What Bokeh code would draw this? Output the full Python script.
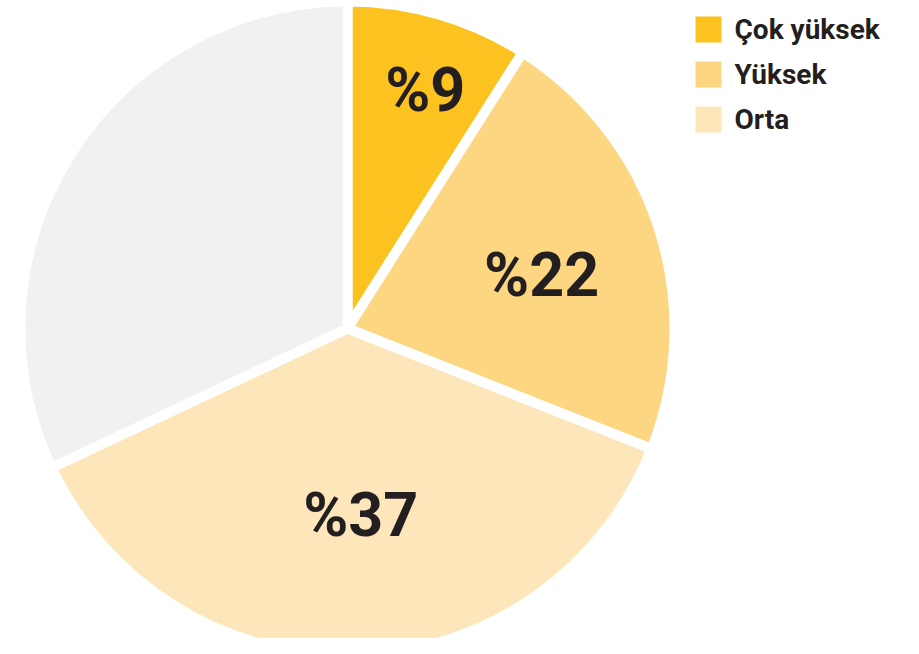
import math
from bokeh.plotting import figure
from bokeh.models import Range1d, ColumnDataSource
from bokeh.core.properties import value
from bokeh.embed import file_html
from bokeh.resources import INLINE

# data
categories = ["Çok yüksek", "Yüksek", "Orta", "Diğer"]
shares = [9, 22, 37, 32]
colors = ["#FCC21F", "#FCD680", "#FDE7BA", "#F0F1F3"]
show_label = [True, True, True, False]
label_radius = [0.78, 0.625, 0.58, 0.0]
label_pos = [0.556, 0.534, 0.483, 0.5]
legend_categories = categories[:3]
legend_colors = colors[:3]

W, H = 903, 638
p = figure(width=W, height=H, output_backend="svg", toolbar_location=None,
           x_range=Range1d(0, W), y_range=Range1d(-H, 0),
           min_border=0, outline_line_color=None)
p.axis.visible = False
p.grid.visible = False
p.background_fill_color = "white"

cx, cy, r = 347, -328, 327
rv = r - 5
total = sum(shares)
starts, ends, lx, ly, labels = [], [], [], [], []
cum = 0
for s, show, lr, lp in zip(shares, show_label, label_radius, label_pos):
    a0 = math.pi / 2 - 2 * math.pi * cum / total
    cum += s
    a1 = math.pi / 2 - 2 * math.pi * cum / total
    starts.append(a0)
    ends.append(a1)
    if show:
        ang = a0 + (a1 - a0) * lp
        lx.append(cx + lr * rv * math.cos(ang))
        ly.append(cy + lr * rv * math.sin(ang))
        labels.append(f"%{s}")

src = ColumnDataSource(dict(start=starts, end=ends, color=colors))
p.wedge(x=cx, y=cy, radius=r, start_angle="start", end_angle="end",
        direction="clock", fill_color="color", line_color="white",
        line_width=10, source=src)

p.text(x=lx, y=ly, text=labels, text_align="center", text_baseline="middle",
       text_font=value("Roboto"), text_font_style="bold",
       text_font_size="61px", text_color="#231F20")

# legend
lgx, lgy, step = 708, -29, 45
sq_x = [lgx] * len(legend_categories)
sq_y = [lgy - i * step for i in range(len(legend_categories))]
p.rect(x=sq_x, y=sq_y, width=26, height=26, fill_color=legend_colors,
       line_color=None)
p.text(x=[lgx + 26] * len(legend_categories), y=sq_y, text=legend_categories,
       text_align="left", text_baseline="middle",
       text_font=value("Roboto"), text_font_style="bold",
       text_font_size="28px", text_color="#231F20")

open("out.html", "w").write(file_html(p, INLINE))
